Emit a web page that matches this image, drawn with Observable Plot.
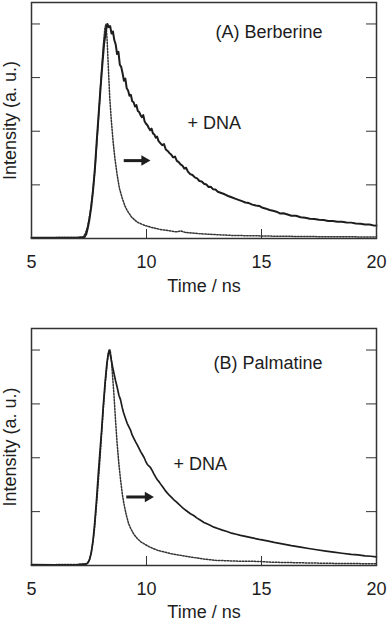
<!DOCTYPE html>
<html><head><meta charset="utf-8">
<script src="https://cdn.jsdelivr.net/npm/d3@7"></script>
<script src="https://cdn.jsdelivr.net/npm/@observablehq/plot@0.6"></script>
<style>
html,body{margin:0;padding:0;background:#fff;}
#chart svg{display:block;}
</style></head><body><div id="chart"></div><script>
// ---------- data ----------
const xTicks = [5, 10, 15, 20];
const yTicks = [0.25, 0.5, 0.75, 1.0];

// (A) Berberine + DNA (solid)
const timeA_dna = [5, 6, 7, 7.3, 7.38, 7.45, 7.52, 7.6, 7.68, 7.76, 7.84, 7.92, 8.0, 8.08, 8.16, 8.24, 8.30,
  8.36, 8.42, 8.48, 8.54, 8.60, 8.66, 8.72, 8.78, 8.84, 8.90,
  8.96, 9.02, 9.08, 9.14, 9.20, 9.26, 9.32, 9.38, 9.44, 9.50,
  9.56, 9.62, 9.68, 9.74, 9.80, 9.86, 9.92, 9.98, 10.04, 10.10,
  10.16, 10.22, 10.28, 10.34, 10.40, 10.46, 10.52, 10.60, 10.68, 10.76,
  10.84, 10.92, 11.00, 11.08, 11.16, 11.24, 11.32, 11.40, 11.48, 11.56,
  11.64, 11.72, 11.80, 11.90, 12.00, 12.10, 12.20, 12.30, 12.40, 12.50,
  12.60, 12.70, 12.80, 12.90, 13.00, 13.10, 13.25, 13.40, 13.55, 13.70,
  13.85, 14.00, 14.15, 14.30, 14.45, 14.60, 14.75, 14.90, 15.05, 15.20,
  15.35, 15.50, 15.65, 15.80, 15.95, 16.10, 16.30, 16.50, 16.70, 16.90,
  17.10, 17.30, 17.50, 17.70, 17.90, 18.10, 18.30, 18.50, 18.70, 18.90,
  19.10, 19.30, 19.50, 19.70, 19.90, 20.00];
const intensityA_dna = [0.004, 0.003, 0.004, 0.006, 0.02, 0.05, 0.09, 0.15, 0.23, 0.33, 0.46, 0.58, 0.70, 0.81, 0.91, 0.97, 1.0,
  0.985, 0.990, 0.955, 0.965, 0.925, 0.905, 0.860, 0.870, 0.810, 0.800,
  0.770, 0.735, 0.745, 0.700, 0.690, 0.665, 0.670, 0.640, 0.635, 0.615,
  0.622, 0.595, 0.590, 0.575, 0.565, 0.575, 0.545, 0.535, 0.528, 0.515,
  0.505, 0.512, 0.490, 0.485, 0.470, 0.475, 0.455, 0.445, 0.435, 0.440,
  0.415, 0.408, 0.398, 0.390, 0.378, 0.382, 0.362, 0.356, 0.345, 0.340,
  0.326, 0.330, 0.312, 0.300, 0.296, 0.285, 0.280, 0.268, 0.266, 0.255,
  0.252, 0.240, 0.241, 0.229, 0.228, 0.218, 0.212, 0.206, 0.198, 0.192,
  0.186, 0.180, 0.174, 0.168, 0.165, 0.158, 0.154, 0.152, 0.143, 0.139,
  0.133, 0.129, 0.125, 0.117, 0.118, 0.113, 0.106, 0.106, 0.099, 0.097,
  0.092, 0.091, 0.087, 0.086, 0.082, 0.082, 0.078, 0.078, 0.075, 0.074,
  0.070, 0.069, 0.065, 0.065, 0.060, 0.061];

// (A) Berberine alone (dotted)
const timeA_free = [5, 6, 7, 7.25, 7.35, 7.45, 7.55, 7.65, 7.75, 7.85,
  7.95, 8.05, 8.13, 8.19, 8.24, 8.29, 8.34, 8.4, 8.47, 8.55,
  8.63, 8.72, 8.82, 8.94, 9.05, 9.16, 9.35, 9.6, 9.9, 10.17,
  10.6, 11.0, 11.3, 11.5, 11.7, 12.35, 13.0, 13.8, 14.5, 15.5,
  17, 18.5, 20];
const intensityA_free = [0.004, 0.004, 0.005, 0.008, 0.025, 0.06, 0.12, 0.2, 0.31, 0.46,
  0.62, 0.79, 0.91, 0.98, 1.0, 0.92, 0.80, 0.66, 0.55, 0.45,
  0.37, 0.30, 0.235, 0.19, 0.155, 0.13, 0.10, 0.076, 0.062, 0.053,
  0.042, 0.036, 0.031, 0.035, 0.028, 0.022, 0.018, 0.014, 0.013, 0.011,
  0.009, 0.008, 0.007];

// (B) Palmatine + DNA (solid)
const timeB_dna = [5, 6, 7, 7.35, 7.45, 7.53, 7.6, 7.68, 7.75, 7.83,
  7.9, 7.97, 8.05, 8.12, 8.2, 8.27, 8.33, 8.38, 8.45, 8.52,
  8.58, 8.65, 8.72, 8.8, 8.87, 8.94, 9.0, 9.08, 9.16, 9.23,
  9.3, 9.38, 9.45, 9.52, 9.6, 9.67, 9.74, 9.82, 9.9, 9.96,
  10.03, 10.1, 10.17, 10.25, 10.32, 10.4, 10.47, 10.55, 10.6, 10.7,
  10.8, 10.9, 11.0, 11.1, 11.19, 11.3, 11.4, 11.5, 11.6, 11.75,
  11.91, 12.05, 12.2, 12.35, 12.5, 12.7, 12.93, 13.1, 13.3, 13.5,
  13.7, 13.9, 14.09, 14.35, 14.6, 14.9, 15.25, 15.55, 15.9, 16.3,
  16.7, 17.05, 17.4, 17.8, 18.14, 18.5, 18.9, 19.2, 19.5, 19.75,
  20];
const intensityB_dna = [0.004, 0.003, 0.004, 0.006, 0.012, 0.03, 0.06, 0.12, 0.2, 0.31,
  0.42, 0.52, 0.63, 0.74, 0.85, 0.93, 0.98, 1.0, 0.965, 0.925,
  0.895, 0.86, 0.83, 0.79, 0.77, 0.735, 0.71, 0.685, 0.66, 0.645,
  0.63, 0.605, 0.59, 0.575, 0.56, 0.545, 0.53, 0.515, 0.5, 0.485,
  0.47, 0.462, 0.455, 0.44, 0.425, 0.41, 0.398, 0.388, 0.38, 0.365,
  0.35, 0.337, 0.325, 0.315, 0.305, 0.295, 0.285, 0.275, 0.265, 0.253,
  0.24, 0.232, 0.22, 0.21, 0.2, 0.19, 0.178, 0.172, 0.164, 0.158,
  0.15, 0.145, 0.14, 0.134, 0.128, 0.121, 0.114, 0.107, 0.1, 0.092,
  0.085, 0.079, 0.073, 0.067, 0.062, 0.057, 0.052, 0.049, 0.045, 0.043,
  0.04];

// (B) Palmatine alone (dotted)
const timeB_free = [5, 6, 7, 7.4, 7.5, 7.58, 7.66, 7.74, 7.82, 7.9,
  7.98, 8.06, 8.14, 8.22, 8.3, 8.36, 8.42, 8.47, 8.51, 8.58,
  8.65, 8.72, 8.8, 8.87, 8.95, 9.03, 9.12, 9.22, 9.32, 9.45,
  9.6, 9.75, 9.9, 10.1, 10.3, 10.5, 10.8, 11.1, 11.5, 12.0,
  12.5, 13, 13.5, 14, 14.5, 15, 15.5, 16, 17, 18,
  19, 20];
const intensityB_free = [0.004, 0.004, 0.005, 0.008, 0.02, 0.05, 0.1, 0.17, 0.27, 0.38,
  0.5, 0.63, 0.75, 0.86, 0.95, 0.99, 1.0, 0.96, 0.9, 0.8,
  0.68, 0.57, 0.47, 0.40, 0.33, 0.28, 0.235, 0.195, 0.17, 0.145,
  0.125, 0.11, 0.1, 0.088, 0.078, 0.07, 0.062, 0.054, 0.047, 0.038,
  0.03, 0.024, 0.022, 0.02, 0.02, 0.018, 0.015, 0.014, 0.012, 0.01,
  0.009, 0.008];

// annotations (data coordinates)
const panelNames = ["(A) Berberine", "(B) Palmatine"];
const nameTime = [13.0, 12.91];
const nameIntensity = [0.963, 0.938];
const dnaLabel = "+ DNA";
const dnaTime = [11.78, 11.17];
const dnaIntensity = [0.535, 0.47];
const arrowStart = [9.01, 9.12];
const arrowShaftEnd = [9.85, 9.98];
const arrowTip = [10.17, 10.32];
const arrowIntensity = [0.363, 0.318];

// ---------- drawing ----------
const zip = (t, v) => t.map((x, i) => ({t: x, v: v[i]}));
const FONT = "'Liberation Sans', Arial, Helvetica, sans-serif";
const INK = "#1d1d1d";

function panel(i, dna, free, opts) {
  const W = 387, H = opts.height;
  const mL = 31, mR = 11;
  const pw = W - mL - mR, ph = H - opts.mT - opts.mB;
  const ann = [{
    name: panelNames[i], nt: nameTime[i], ni: nameIntensity[i],
    dt: dnaTime[i], di: dnaIntensity[i],
    a1: arrowStart[i], a2: arrowShaftEnd[i], at: arrowTip[i], ay: arrowIntensity[i]
  }];
  return Plot.plot({
    width: W, height: H,
    marginLeft: mL, marginRight: mR, marginTop: opts.mT, marginBottom: opts.mB,
    style: {fontFamily: FONT, fontSize: "18px", color: INK, background: "#fff"},
    x: {domain: [5, 20]},
    y: {domain: [0, 1.1]},
    marks: [
      Plot.axisX({ticks: xTicks, tickSize: 0, tickPadding: 17, fontSize: 18,
        label: "Time / ns", labelAnchor: "center", labelArrow: "none", labelOffset: opts.xLabelOffset}),
      Plot.axisY({ticks: [], tickSize: 0, fontSize: 18,
        label: "Intensity (a. u.)", labelAnchor: "center", labelArrow: "none", labelOffset: 28}),
      Plot.tickX(xTicks, {x: d => d, insetTop: ph - 9, stroke: "#333", strokeWidth: 1}),
      Plot.tickY(yTicks, {y: d => d, insetRight: pw - 9, stroke: "#333", strokeWidth: 1}),
      Plot.tickY(yTicks, {y: d => d, insetLeft: pw - 10, stroke: "#333", strokeWidth: 1}),
      Plot.line(free, {x: "t", y: "v", stroke: "#333", strokeWidth: 1.5, strokeDasharray: "1.5,1.5"}),
      Plot.line(dna, {x: "t", y: "v", stroke: INK, strokeWidth: opts.lineW}),
      Plot.link(ann, {x1: "a1", x2: "a2", y1: "ay", y2: "ay", stroke: INK, strokeWidth: 3}),
      Plot.dot(ann, {x: "at", y: "ay", symbol: "triangle", rotate: 90, r: 3.9, dx: -6, fill: INK, stroke: "none"}),
      Plot.text(ann, {x: "nt", y: "ni", text: "name", textAnchor: "start", fontSize: 18, fill: INK}),
      Plot.text(ann, {x: "dt", y: "di", text: () => dnaLabel, textAnchor: "start", fontSize: 18, fill: INK}),
      Plot.frame({stroke: "#333", strokeWidth: 1.5})
    ]
  });
}

const chart = document.getElementById("chart");
chart.append(panel(0, zip(timeA_dna, intensityA_dna), zip(timeA_free, intensityA_free),
  {height: 300, mT: 2, mB: 62, xLabelOffset: 53, lineW: 2.0}));
chart.append(panel(1, zip(timeB_dna, intensityB_dna), zip(timeB_free, intensityB_free),
  {height: 320, mT: 28, mB: 55, xLabelOffset: 52, lineW: 1.7}));
</script></body></html>
